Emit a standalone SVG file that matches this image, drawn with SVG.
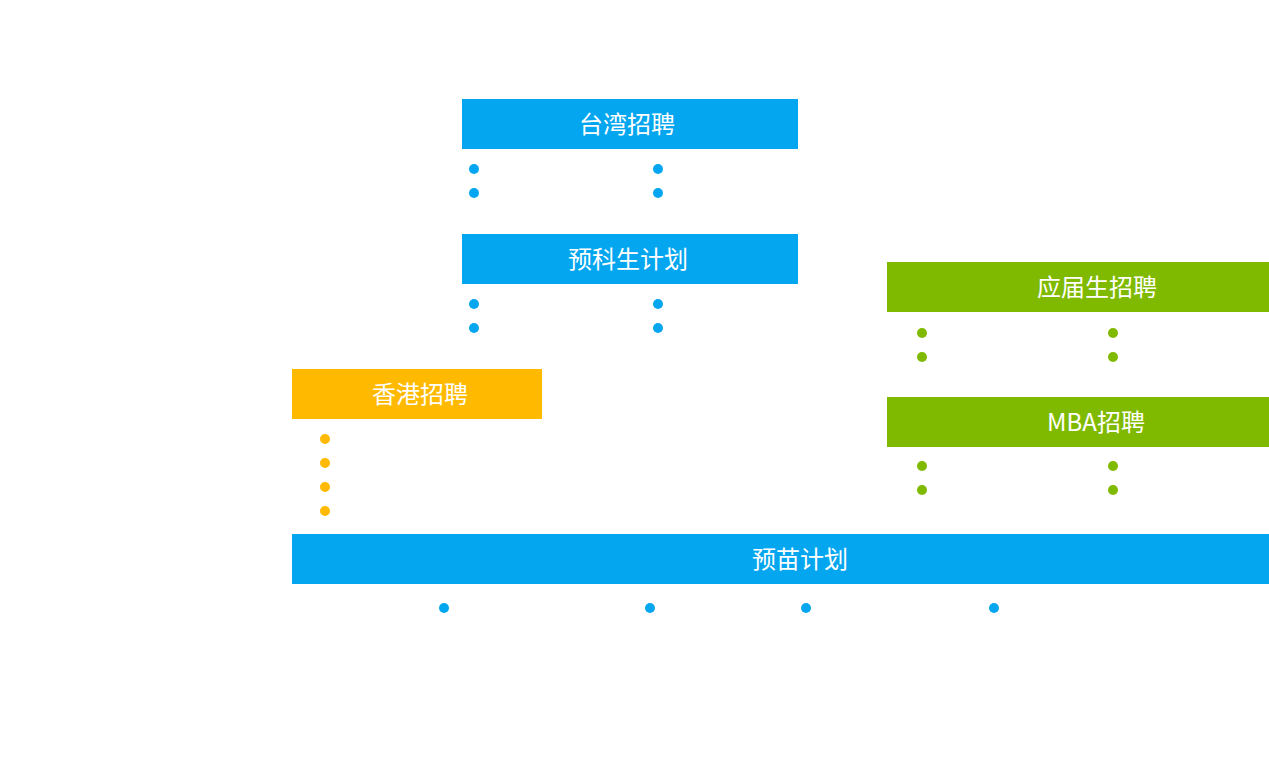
<svg xmlns="http://www.w3.org/2000/svg" width="1269" height="758" viewBox="0 0 1269 758">
<style>
.blue{fill:#03A6EF}
.green{fill:#7FBA00}
.yellow{fill:#FFBA00}
.t{fill:#FFFFFF;font-family:"Noto Sans CJK SC","Liberation Sans",sans-serif;font-size:24px;text-anchor:middle}
</style>
<rect width="1269" height="758" fill="#FFFFFF"/>
<g id="taiwan">
<rect class="blue" x="462" y="99" width="336" height="50"/>
<text class="t" x="627" y="133">台湾招聘</text>
<circle class="blue" cx="474" cy="169" r="5"/><circle class="blue" cx="474" cy="193" r="5"/>
<circle class="blue" cx="658" cy="169" r="5"/><circle class="blue" cx="658" cy="193" r="5"/>
</g>
<g id="yukesheng">
<rect class="blue" x="462" y="234" width="336" height="50"/>
<text class="t" x="628" y="268">预科生计划</text>
<circle class="blue" cx="474" cy="304" r="5"/><circle class="blue" cx="474" cy="328" r="5"/>
<circle class="blue" cx="658" cy="304" r="5"/><circle class="blue" cx="658" cy="328" r="5"/>
</g>
<g id="hongkong">
<rect class="yellow" x="292" y="369" width="250" height="50"/>
<text class="t" x="420" y="403">香港招聘</text>
<circle class="yellow" cx="325" cy="439" r="5"/><circle class="yellow" cx="325" cy="463" r="5"/>
<circle class="yellow" cx="325" cy="487" r="5"/><circle class="yellow" cx="325" cy="511" r="5"/>
</g>
<g id="yingjie">
<rect class="green" x="887" y="262" width="382" height="50"/>
<text class="t" x="1097" y="296">应届生招聘</text>
<circle class="green" cx="922" cy="333" r="5"/><circle class="green" cx="922" cy="357" r="5"/>
<circle class="green" cx="1113" cy="333" r="5"/><circle class="green" cx="1113" cy="357" r="5"/>
</g>
<g id="mba">
<rect class="green" x="887" y="397" width="382" height="50"/>
<text class="t" x="1096" y="431">MBA招聘</text>
<circle class="green" cx="922" cy="466" r="5"/><circle class="green" cx="922" cy="490" r="5"/>
<circle class="green" cx="1113" cy="466" r="5"/><circle class="green" cx="1113" cy="490" r="5"/>
</g>
<g id="yumiao">
<rect class="blue" x="292" y="534" width="977" height="50"/>
<text class="t" x="800" y="568">预苗计划</text>
<circle class="blue" cx="444" cy="608" r="5"/><circle class="blue" cx="650" cy="608" r="5"/>
<circle class="blue" cx="806" cy="608" r="5"/><circle class="blue" cx="994" cy="608" r="5"/>
</g>
<g id="connectors"></g>
</svg>
